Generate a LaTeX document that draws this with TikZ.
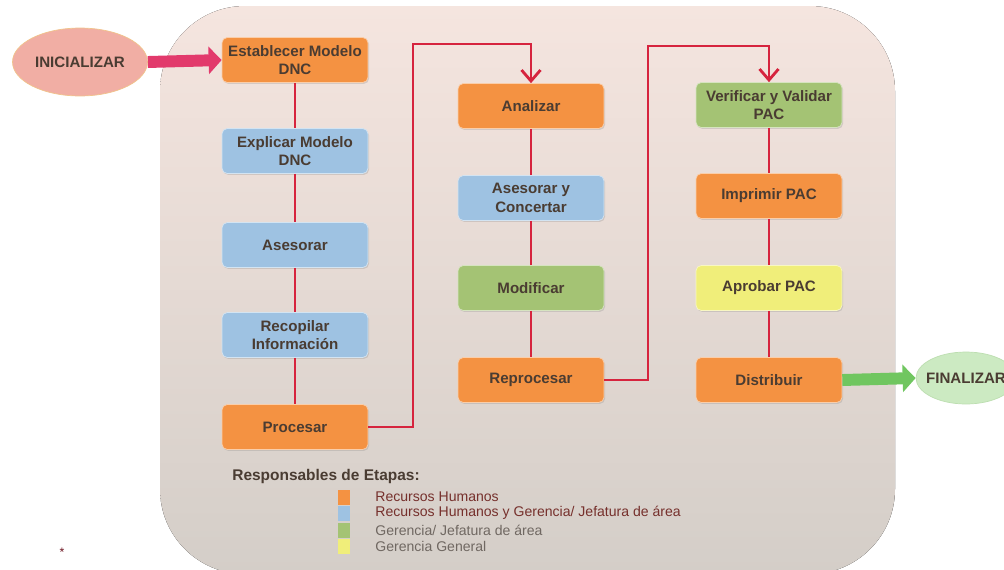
\documentclass[tikz,border=0pt]{standalone}
\usepackage{fontspec}
\setmainfont{Liberation Sans}
\usetikzlibrary{arrows.meta,positioning,calc,shapes.geometric,shadows}

\definecolor{rhorange}{RGB}{244,146,66}
\definecolor{rhblue}{RGB}{158,194,226}
\definecolor{gergreen}{RGB}{164,195,116}
\definecolor{genyellow}{RGB}{240,238,122}
\definecolor{linkred}{RGB}{214,36,62}
\definecolor{txtdark}{RGB}{74,60,50}
\definecolor{legred}{RGB}{118,48,44}
\definecolor{leggray}{RGB}{112,104,98}
\definecolor{bgtop}{RGB}{245,229,223}
\definecolor{bgbot}{RGB}{212,206,200}
\definecolor{inifill}{RGB}{241,174,164}
\definecolor{iniedge}{RGB}{240,196,140}
\definecolor{finfill}{RGB}{204,234,194}
\definecolor{finedge}{RGB}{188,222,176}
\definecolor{startpink}{RGB}{226,58,108}
\definecolor{endgreen}{RGB}{112,198,96}

\begin{document}
\begin{tikzpicture}[x=0.02cm,y=-0.02cm,
  stage/.style={fill=#1,draw=white!55!#1,rounded corners=3pt,
                minimum width=2.92cm,minimum height=0.9cm,align=center,
                inner sep=1pt,text=txtdark,
                font=\fontsize{8.6}{10.4}\selectfont\bfseries,
                drop shadow={shadow xshift=0.6pt,shadow yshift=-0.8pt,opacity=0.25}},
  link/.style={draw=linkred,line width=1.6pt},
  flow/.style={link,-{Straight Barb[length=2.2mm,width=3.8mm]}},
  fat/.style={draw=#1,line width=6.8pt,-{Triangle[length=2.6mm,width=5.4mm]}},
  term/.style={ellipse,inner sep=0pt,text=txtdark,
               font=\fontsize{8.6}{10}\selectfont\bfseries},
  key/.style={fill=#1,minimum width=0.24cm,minimum height=0.3cm,inner sep=0pt},
  legtext/.style={anchor=west,inner sep=0pt,font=\fontsize{8}{9.6}\selectfont}]

  \useasboundingbox (0,0) rectangle (1004,569);

  % background panel
  \fill[rounded corners=1.7cm,top color=bgtop,bottom color=bgbot]
    (160,6) rectangle (895,574);

  % terminals
  \node[term,fill=inifill,draw=iniedge,
        minimum width=2.7cm,minimum height=1.36cm] (ini) at (80,62)
        {\makebox[0pt]{INICIALIZAR}};
  \node[term,fill=finfill,draw=finedge,
        minimum width=2.0cm,minimum height=1.04cm] (fin) at (966,378)
        {\makebox[0pt]{FINALIZAR}};

  % column 1
  \node[stage=rhorange] (est) at (295,60)  {Establecer Modelo\\DNC};
  \node[stage=rhblue]   (exp) at (295,151) {Explicar Modelo\\DNC};
  \node[stage=rhblue]   (ase) at (295,245) {Asesorar};
  \node[stage=rhblue]   (rec) at (295,335) {Recopilar\\Información};
  \node[stage=rhorange] (pro) at (295,427) {Procesar};

  % column 2
  \node[stage=rhorange]  (ana) at (531,106) {Analizar};
  \node[stage=rhblue]    (con) at (531,198) {Asesorar y\\Concertar};
  \node[stage=gergreen]  (mod) at (531,288) {Modificar};
  \node[stage=rhorange]  (rep) at (531,380) {Reprocesar};

  % column 3
  \node[stage=gergreen]  (ver) at (769,105) {Verificar y Validar\\PAC};
  \node[stage=rhorange]  (imp) at (769,196) {Imprimir PAC};
  \node[stage=genyellow] (apr) at (769,288) {Aprobar PAC};
  \node[stage=rhorange]  (dis) at (769,380) {Distribuir};

  % links inside the columns
  \draw[link] (est) -- (exp);
  \draw[link] (exp) -- (ase);
  \draw[link] (ase) -- (rec);
  \draw[link] (rec) -- (pro);
  \draw[link] (ana) -- (con);
  \draw[link] (con) -- (mod);
  \draw[link] (mod) -- (rep);
  \draw[link] (ver) -- (imp);
  \draw[link] (imp) -- (apr);
  \draw[link] (apr) -- (dis);

  % jumps between columns
  \coordinate (up1) at (413,44);
  \coordinate (up2) at (648,46);
  \draw[flow] (pro.east) -| (up1) -| (ana.north);
  \draw[flow] (rep.east) -| (up2) -| (ver.north);

  % start and end
  \draw[fat=startpink] (ini.east) -- (est.west);
  \draw[fat=endgreen] (dis.east) -- (fin.west);

  % legend
  \node[anchor=west,inner sep=0pt,text=txtdark,
        font=\fontsize{8.8}{10}\selectfont\bfseries] (resp) at (232,476)
        {Responsables de Etapas:};
  \node[key=rhorange]   (k1) at (344,497) {};
  \node[key=rhblue]     (k2) at (344,513) {};
  \node[key=gergreen]   (k3) at (344,530) {};
  \node[key=genyellow]  (k4) at (344,546) {};
  \node[legtext,text=legred]  (l1) at (375,497) {Recursos Humanos};
  \node[legtext,text=legred]  (l2) at (375,513)
        {Recursos Humanos y Gerencia/ Jefatura de área};
  \node[legtext,text=leggray] (l3) at (375,530) {Gerencia/ Jefatura de área};
  \node[legtext,text=leggray] (l4) at (375,546) {Gerencia General};

  \node[font=\scriptsize,text=linkred!50!black,inner sep=0pt] (star) at (62,552) {*};
\end{tikzpicture}
\end{document}
